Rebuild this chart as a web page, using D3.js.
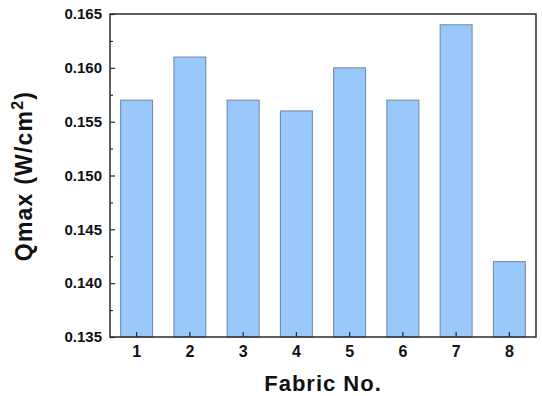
<!DOCTYPE html>
<html>
<head>
<meta charset="utf-8">
<script src="https://cdn.jsdelivr.net/npm/d3@7"></script>
<style>
  html, body { margin: 0; padding: 0; background: #fff; }
  svg { display: block; font-family: Arial, "Liberation Sans", sans-serif; }
</style>
</head>
<body>
<svg id="chart" width="542" height="396"></svg>
<script>
// Peak heat flux per fabric sample
const fabrics = ["1", "2", "3", "4", "5", "6", "7", "8"];
const qmax = [0.157, 0.161, 0.157, 0.156, 0.160, 0.157, 0.164, 0.142];
const yTicks = [0.135, 0.140, 0.145, 0.150, 0.155, 0.160, 0.165];
const yMinorTicks = [0.1375, 0.1425, 0.1475, 0.1525, 0.1575, 0.1625];

const svg = d3.select("#chart");
const plot = { left: 110, top: 14, right: 536, bottom: 337 };

const x = d3.scaleBand()
  .domain(fabrics)
  .range([plot.left, plot.right])
  .paddingInner(0.4)
  .paddingOuter(0.2);

const y = d3.scaleLinear()
  .domain([0.135, 0.165])
  .range([plot.bottom, plot.top]);

// bars
svg.append("g")
  .selectAll("rect")
  .data(qmax)
  .join("rect")
  .attr("x", (d, i) => x(fabrics[i]))
  .attr("y", d => y(d))
  .attr("width", x.bandwidth())
  .attr("height", d => y(0.135) - y(d))
  .attr("fill", "#99c8fb")
  .attr("stroke", "#6d86a3")
  .attr("stroke-width", 1);

// frame
svg.append("rect")
  .attr("x", plot.left)
  .attr("y", plot.top)
  .attr("width", plot.right - plot.left)
  .attr("height", plot.bottom - plot.top)
  .attr("fill", "none")
  .attr("stroke", "#2b2b2b")
  .attr("stroke-width", 1.5);

// y axis (ticks pointing inward)
const yAxis = svg.append("g")
  .attr("transform", `translate(${plot.left},0)`)
  .call(d3.axisLeft(y).tickValues(yTicks).tickFormat(d3.format(".3f"))
    .tickSizeInner(-5).tickSizeOuter(0).tickPadding(8));
yAxis.select(".domain").remove();
yAxis.selectAll("line").attr("stroke", "#2b2b2b").attr("stroke-width", 1.2);
yAxis.selectAll("text")
  .attr("font-size", "15px").attr("font-weight", "bold").attr("fill", "#111")
  .attr("font-family", "Arial, 'Liberation Sans', sans-serif");

const yMinor = svg.append("g")
  .attr("transform", `translate(${plot.left},0)`)
  .call(d3.axisLeft(y).tickValues(yMinorTicks).tickFormat("")
    .tickSizeInner(-3).tickSizeOuter(0));
yMinor.select(".domain").remove();
yMinor.selectAll("line").attr("stroke", "#2b2b2b").attr("stroke-width", 1.2);

// x axis (ticks pointing inward)
const xAxis = svg.append("g")
  .attr("transform", `translate(0,${plot.bottom})`)
  .call(d3.axisBottom(x).tickSizeInner(-5).tickSizeOuter(0).tickPadding(9));
xAxis.select(".domain").remove();
xAxis.selectAll("line").attr("stroke", "#2b2b2b").attr("stroke-width", 1.2);
xAxis.selectAll("text")
  .attr("font-size", "16px").attr("font-weight", "bold").attr("fill", "#111")
  .attr("font-family", "Arial, 'Liberation Sans', sans-serif");

// axis titles
svg.append("text")
  .attr("x", (plot.left + plot.right) / 2)
  .attr("y", 391)
  .attr("text-anchor", "middle")
  .attr("font-size", "22px")
  .attr("font-weight", "bold")
  .attr("letter-spacing", "1px")
  .attr("fill", "#111")
  .text("Fabric No.");

const yTitle = svg.append("text")
  .attr("transform", "translate(32,176) rotate(-90)")
  .attr("text-anchor", "middle")
  .attr("font-size", "23px")
  .attr("font-weight", "bold")
  .attr("letter-spacing", "1.2px")
  .attr("fill", "#111");
yTitle.append("tspan").text("Qmax (W/cm");
yTitle.append("tspan").attr("font-size", "16px").attr("dy", "-9").text("2");
yTitle.append("tspan").attr("dy", "9").text(")");
</script>
</body>
</html>
